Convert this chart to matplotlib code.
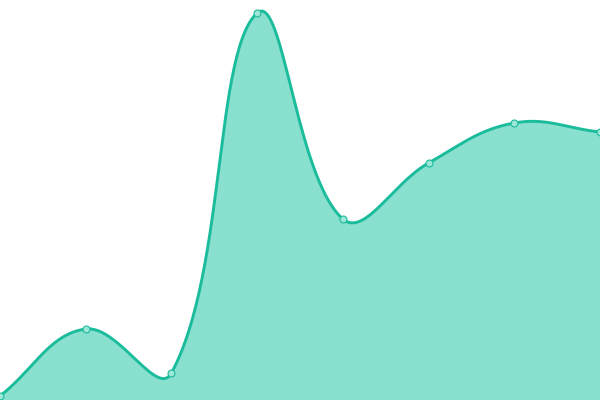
import numpy as np
import matplotlib
matplotlib.use("Agg")
import matplotlib.pyplot as plt

# data
labels = ["A", "B", "C", "D", "E", "F", "G", "H"]
values = [4, 71, 27, 387, 181, 237, 277, 268]

line_color = "#1abc9c"
fill_color = "#89e0cf"
point_fill = "#9ee6d8"
tension = 0.4

fig = plt.figure(figsize=(6, 4), dpi=100)
ax = fig.add_axes([0, 0, 1, 1])
ax.set_xlim(0, len(values) - 1)
ax.set_ylim(0, 400)
ax.axis("off")

# work in pixel space like a canvas spline
x = np.arange(len(values))
pts = ax.transData.transform(np.column_stack([x, values]))

def control_points(p):
    n = len(p)
    cps = []
    for i in range(n):
        prev = p[max(i - 1, 0)]
        cur = p[i]
        nxt = p[min(i + 1, n - 1)]
        d01 = np.hypot(*(cur - prev))
        d12 = np.hypot(*(nxt - cur))
        tot = d01 + d12
        s01 = d01 / tot if tot else 0
        s12 = d12 / tot if tot else 0
        fa = tension * s01
        fb = tension * s12
        cps.append((cur - fa * (nxt - prev), cur + fb * (nxt - prev)))
    return cps

cps = control_points(pts)
curve = []
tt = np.linspace(0, 1, 60)[:, None]
for i in range(len(pts) - 1):
    p0 = pts[i]
    p1 = cps[i][1]
    p2 = cps[i + 1][0]
    p3 = pts[i + 1]
    seg = ((1 - tt) ** 3) * p0 + 3 * ((1 - tt) ** 2) * tt * p1 + 3 * (1 - tt) * tt ** 2 * p2 + tt ** 3 * p3
    curve.append(seg if i == 0 else seg[1:])
curve = np.vstack(curve)
curve = ax.transData.inverted().transform(curve)

ax.fill_between(curve[:, 0], 0, curve[:, 1], color=fill_color, linewidth=0)
ax.plot(curve[:, 0], curve[:, 1], color=line_color, linewidth=2.1, solid_capstyle="round")
ax.plot(x, values, "o", markersize=5, markerfacecolor=point_fill,
        markeredgecolor=line_color, markeredgewidth=0.8, clip_on=False)

fig.savefig("out.png", dpi=100)
